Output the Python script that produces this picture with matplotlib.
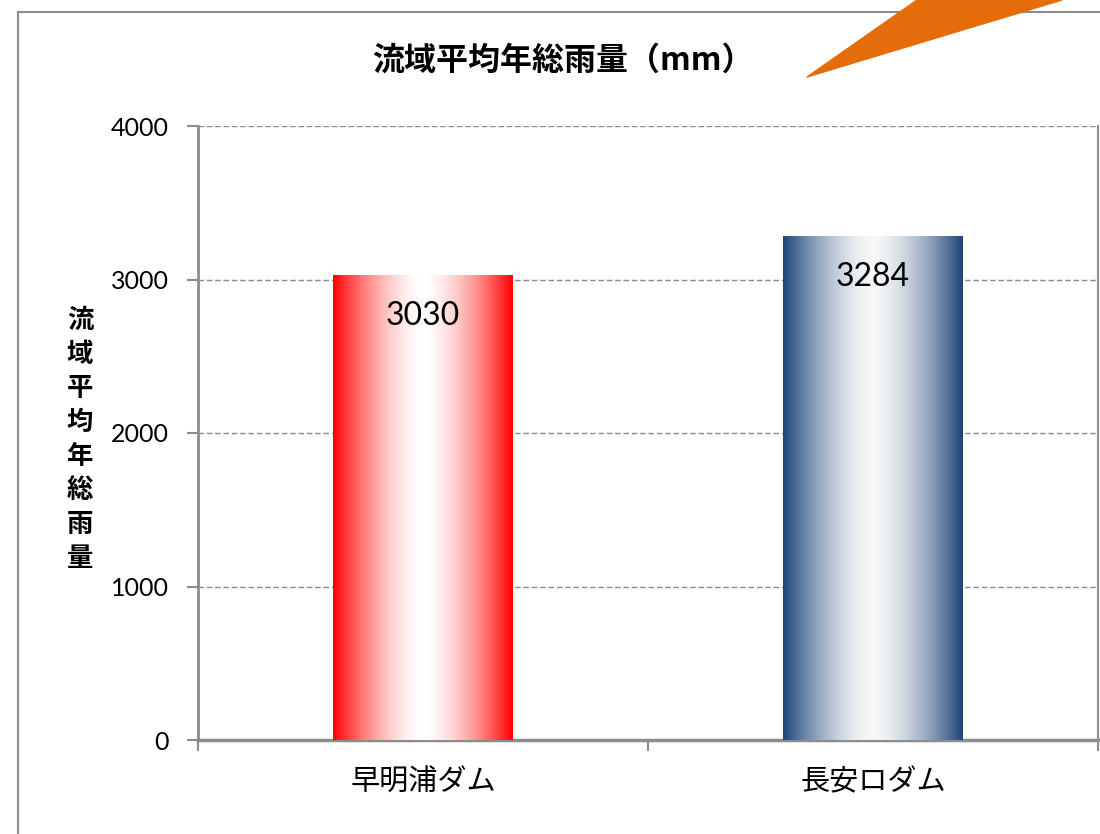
import matplotlib
matplotlib.use("Agg")
import matplotlib.pyplot as plt
import numpy as np
from matplotlib.colors import to_rgb
from matplotlib.patches import Polygon
from matplotlib.lines import Line2D

plt.rcParams['font.family'] = ['Lato', 'Noto Sans CJK JP', 'DejaVu Sans']
CJK = ['Noto Sans CJK JP', 'DejaVu Sans']

categories = ['早明浦ダム', '長安ロダム']
values = [3030, 3284]
yticks = [0, 1000, 2000, 3000, 4000]
title = '流域平均年総雨量（mm）'
ylabel = '流域平均年総雨量'
edge_colors = ['#FF0000', '#1F4479']
center_colors = ['#FFFFFF', '#F6F8F9']

W, H = 1100, 834
fig = plt.figure(figsize=(W / 100, H / 100), dpi=100)

# figure border (left/top) and orange shape
fig.add_artist(Line2D([18 / W, 18 / W], [0, 1 - 12 / H], color='#8C8C8C', lw=1.5))
fig.add_artist(Line2D([18 / W, 1], [1 - 12 / H, 1 - 12 / H], color='#8C8C8C', lw=1.5))
fig.add_artist(Polygon([[807 / W, 1 - 77 / H], [917 / W, 1.0], [1062 / W, 1.0]],
                       closed=True, color='#E46C0A', zorder=5))

ax = fig.add_axes([198 / W, 1 - 740 / H, 900 / W, 614 / H])
ax.set_xlim(-0.5, 1.5)
ax.set_ylim(0, 4000)

bw = 0.4
x = np.linspace(0, 1, 400)
t = np.abs(x - 0.5) * 2
mix = t ** 1.6
for i, (v, ec, cc) in enumerate(zip(values, edge_colors, center_colors)):
    bar = ax.bar(i, v, width=bw, color='none', edgecolor='none', zorder=3)[0]
    e = np.array(to_rgb(ec))
    c = np.array(to_rgb(cc))
    rgb = c[None, :] * (1 - mix[:, None]) + e[None, :] * mix[:, None]
    im = ax.imshow(rgb[None, :, :], aspect='auto', extent=(i - bw / 2, i + bw / 2, 0, v),
                   zorder=3, interpolation='bilinear')
    im.set_clip_path(bar)
    ax.text(i, v - 170, str(v), ha='center', va='top', fontsize=23, color='black', zorder=4)
ax.set_xlim(-0.5, 1.5)
ax.set_ylim(0, 4000)

ax.set_yticks(yticks)
ax.set_yticklabels([str(t) for t in yticks], fontsize=18)
ax.set_xticks([-0.5, 0.5, 1.5], minor=False)
ax.set_xticklabels(['', '', ''])
ax.set_xticks([0, 1], minor=True)
ax.set_xticklabels(categories, minor=True, fontsize=21, family=CJK)
ax.tick_params(axis='x', which='minor', length=0, pad=20)
ax.tick_params(axis='x', which='major', length=8, width=1.5, color='#8C8C8C', direction='out')
ax.tick_params(axis='y', length=8, width=1.5, color='#8C8C8C', direction='out', pad=13)

ax.grid(axis='y', linestyle=(0, (4, 2)), color='#8C8C8C', lw=1, zorder=0)
ax.set_axisbelow(True)
ax.spines['top'].set_visible(False)
ax.spines['left'].set_color('#8C8C8C')
ax.spines['left'].set_linewidth(2)
ax.spines['bottom'].set_color('#8C8C8C')
ax.spines['bottom'].set_linewidth(2.5)
ax.spines['right'].set_color('#8C8C8C')
ax.spines['right'].set_linewidth(1.5)

fig.text(563 / W, 1 - 61 / H, title, ha='center', va='center', fontsize=23,
         fontweight='bold', family=CJK)

for k, ch in enumerate(ylabel):
    fig.text(80 / W, 1 - (320 + k * 34) / H, ch, ha='center', va='center',
             fontsize=19, fontweight='bold', family=CJK)

fig.savefig('out.png', dpi=100)
